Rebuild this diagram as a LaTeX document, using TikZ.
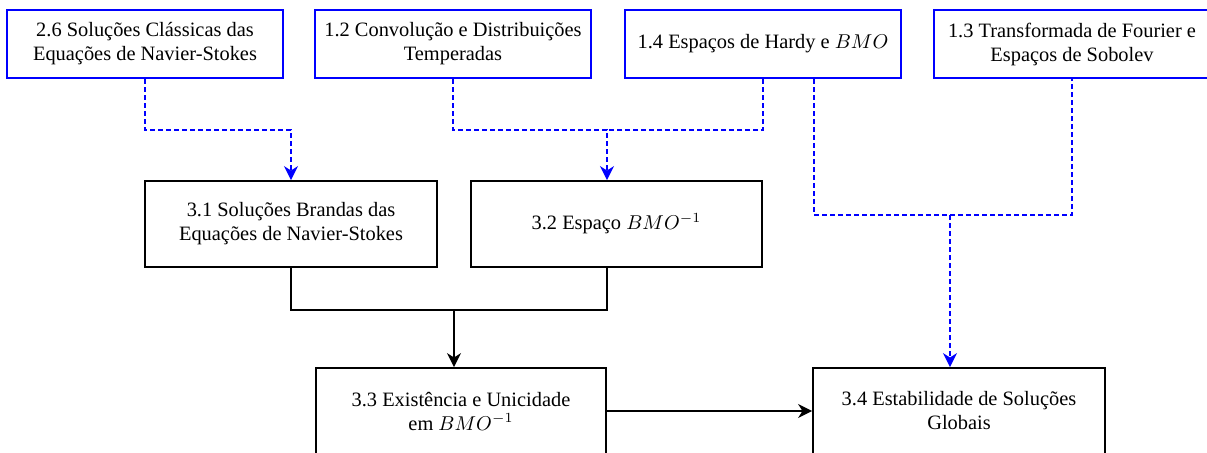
\documentclass[tikz,border=0pt]{standalone}
\usepackage{fontspec}
\setmainfont{Liberation Serif}
\usetikzlibrary{arrows.meta, positioning}

\begin{document}
\begin{tikzpicture}[x=0.5pt,y=-0.5pt,>={Stealth[length=7pt,width=7pt,inset=2.2pt]},
topic/.style={draw=blue,line width=1pt,minimum width=138pt,minimum height=34pt,
  align=center,inner sep=0pt,font=\rmfamily\fontsize{10.2}{12}\selectfont},
chap/.style={draw,line width=0.9pt,minimum width=146pt,minimum height=43pt,
  align=center,inner sep=0pt,font=\rmfamily\fontsize{10.2}{12}\selectfont},
dep/.style={blue,dash pattern=on 2.5pt off 1.5pt,line width=0.8pt},
flow/.style={->,line width=0.8pt}]

\useasboundingbox (0,0) rectangle (1207,452);

    % prerequisites
    \node[topic] (S26) at (145,44) {2.6 Soluções Clássicas das\\Equações de Navier-Stokes};
    \node[topic] (S12) at (453,44) {1.2 Convolução e Distribuições\\Temperadas};
    \node[topic] (S14) at (763,44) {1.4 Espaços de Hardy e $BMO$};
    \node[topic] (S13) at (1072,44) {1.3 Transformada de Fourier e\\Espaços de Sobolev};

    % chapter 3
    \node[chap] (S31) at (291,224) {3.1 Soluções Brandas das\\Equações de Navier-Stokes};
    \node[chap, minimum width=145.5pt] (S32) at (616.5,224) {3.2 Espaço $BMO^{-1}$};
    \node[chap, minimum width=145pt] (S33) at (461,411) {3.3 Existência e Unicidade\\em $BMO^{-1}$};
    \node[chap] (S34) at (959,411) {3.4 Estabilidade de Soluções\\Globais};

    \coordinate (j1) at (291,130);
    \coordinate (j2) at (607,130);
    \coordinate (j3) at (814,215);
    \coordinate (j4) at (950,215);
    \coordinate (j5) at (454,310);

    \draw[dep,->] (S26.south) |- (j1) -- (S31.north);
    \draw[dep,->] (S12.south) |- (j2) -- (j2 |- S32.north);
    \draw[dep] (S14.south) |- (j2);
    \draw[dep] (S14.south -| j3) -- (j3) -| (S13.south);
    \draw[dep,->] (j4) -- (j4 |- S34.north);

    \draw[line width=0.8pt] (S31.south) |- (j5) -| (S32.south -| j2);
    \draw[flow] (j5) -- (j5 |- S33.north);
    \draw[flow] (S33.east) -- (S34.west);

\end{tikzpicture}
\end{document}
